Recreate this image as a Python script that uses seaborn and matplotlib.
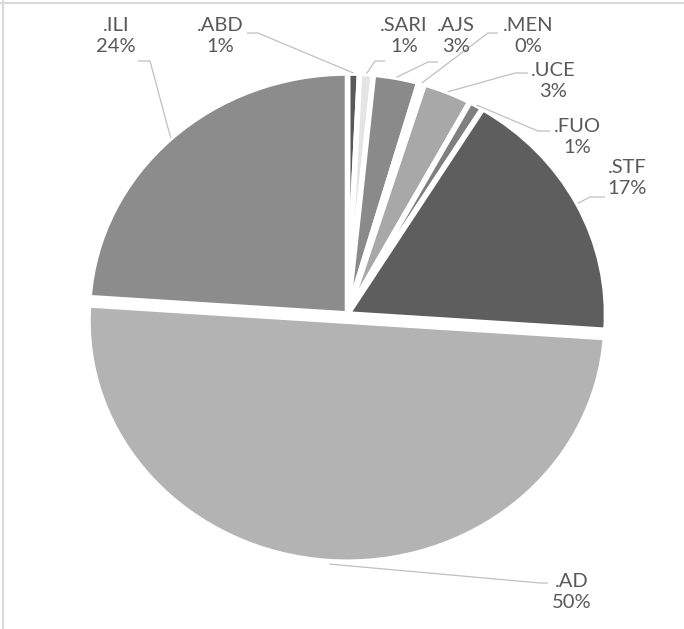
import matplotlib
matplotlib.use("Agg")
import matplotlib.pyplot as plt
import seaborn as sns
import numpy as np

sns.set_theme(style="white")
plt.rcParams["font.family"] = ["Lato", "DejaVu Sans"]

# categories and shares (%), clockwise from 12 o'clock
categories = [".ABD", ".SARI", ".AJS", ".MEN", ".UCE", ".FUO", ".STF", ".AD", ".ILI"]
shares = [0.74, 0.86, 2.85, 0.35, 3.05, 0.90, 17.33, 50.0, 23.92]
pct_labels = ["1%", "1%", "3%", "0%", "3%", "1%", "17%", "50%", "24%"]
colours = ["#595959", "#e4e4e4", "#8a8a8a", "#f2f2f2", "#a8a8a8",
           "#7f7f7f", "#5e5e5e", "#b3b3b3", "#8c8c8c"]

W, H = 684, 629
CX, CY, RX, RY = 347.5, 314, 259, 241  # pixel frame of the pie


def px(x, y):
    # pixel -> data coordinates
    return (x - CX) / RX, (CY - y) / RY


# label text centre, leader anchor next to the text, elbow direction
label_pos = {
    ".ILI": ((116, 36), (138, 61), 12),
    ".ABD": ((220, 36), (247, 33), 11),
    ".SARI": ((404, 36), (385, 61), -10),
    ".AJS": ((456, 36), (438, 62), -10),
    ".MEN": ((528, 36), (498, 33), -10),
    ".UCE": ((553, 81), (528, 73), -13),
    ".FUO": ((577, 137), (550, 131), -12),
    ".STF": ((627, 178), (605, 197), -15),
    ".AD": ((572, 592), (548, 583), -8),
}

fig = plt.figure(figsize=(W / 100, H / 100), dpi=100)
ax = fig.add_axes([0, 0, 1, 1])

explode = [0.03 if c == ".AD" else 0 for c in categories]
wedges, _ = ax.pie(shares, colors=colours, startangle=90, counterclock=False,
                   explode=explode,
                   wedgeprops=dict(edgecolor="white", linewidth=4))

ax.set_aspect("auto")
x0, _ = px(0, 0)
x1, _ = px(W, 0)
_, y0 = px(0, H)
_, y1 = px(0, 0)
ax.set_xlim(x0, x1)
ax.set_ylim(y0, y1)
ax.axis("off")

for w, cat, pct in zip(wedges, categories, pct_labels):
    (tx, ty), (ax_, ay_), elbow = label_pos[cat]
    ang = np.deg2rad((w.theta1 + w.theta2) / 2)
    r = w.r * (1.01 if cat == ".AD" else 1.0)
    wx = w.center[0] + r * np.cos(ang)
    wy = w.center[1] + r * np.sin(ang)
    p0 = px(ax_, ay_)
    p1 = px(ax_ + elbow, ay_)
    ax.plot([p0[0], p1[0], wx], [p0[1], p1[1], wy], color="#c0c0c0", lw=0.9,
            solid_capstyle="butt")
    lx, ly = px(tx, ty)
    ax.text(lx, ly, f"{cat}\n{pct}", ha="center", va="center", fontsize=14.5,
            color="#595959", linespacing=1.32)

# light frame line at top and left
fig.add_artist(plt.Line2D([0, 1], [1 - 3 / H, 1 - 3 / H], color="#d9d9d9", lw=1.5,
                          transform=fig.transFigure))
fig.add_artist(plt.Line2D([3 / W, 3 / W], [0, 1], color="#d9d9d9", lw=1.5,
                          transform=fig.transFigure))

fig.savefig("out.png", dpi=100)
